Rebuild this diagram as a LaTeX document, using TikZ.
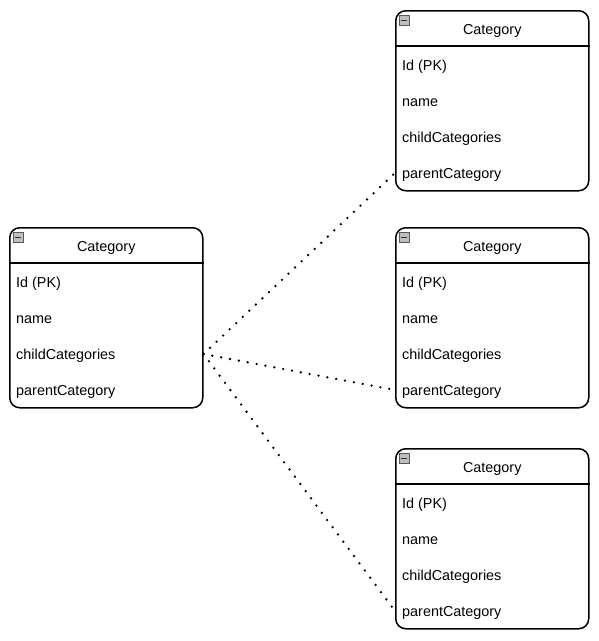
\documentclass[tikz,border=0pt]{standalone}
\usepackage{fontspec}
\setmainfont{Liberation Sans}
\begin{document}
\begin{tikzpicture}[x=1pt,y=-1pt,
  entity/.style={draw=black, line width=1.5pt, rounded corners=10pt, minimum width=193pt, minimum height=180pt, inner sep=0pt, anchor=north west},
  title/.style={font=\fontsize{14.4pt}{16pt}\selectfont, inner sep=0pt, anchor=center},
  field/.style={font=\fontsize{14.4pt}{16pt}\selectfont, inner sep=0pt, anchor=west},
  sep/.style={draw=black, line width=1.1pt},
  iconbox/.style={draw=gray!70!black, fill=gray!50, line width=0.7pt, minimum size=9.5pt, inner sep=0pt, anchor=north west},
  link/.style={line width=2.6pt, line cap=round, dash pattern=on 0pt off 9pt}
]
\useasboundingbox (0,0) rectangle (599,641);

% Entity boxes
\node[entity] (L) at (9,227) {};
\node[entity] (A) at (395,10) {};
\node[entity] (B) at (395,227) {};
\node[entity] (C) at (395,448) {};

\foreach \b in {L,A,B,C}{
  \draw[sep] ([yshift=-36pt]\b.north west) -- ([yshift=-36pt]\b.north east);
  \node[iconbox] (\b-icon) at ([xshift=4pt,yshift=-5pt]\b.north west) {};
  \draw[line width=1.2pt, black!80] ([xshift=2pt]\b-icon.west) -- ([xshift=-2pt]\b-icon.east);
  \node[title] (\b-title) at ([yshift=-21pt]\b.north) {Category};
  \node[field] (\b-id) at ([xshift=7pt,yshift=-57pt]\b.north west) {Id (PK)};
  \node[field] (\b-name) at ([xshift=7pt,yshift=-93pt]\b.north west) {name};
  \node[field] (\b-child) at ([xshift=7pt,yshift=-129pt]\b.north west) {childCategories};
  \node[field] (\b-parent) at ([xshift=7pt,yshift=-165pt]\b.north west) {parentCategory};
}

% connector end points
\coordinate (Lc) at ([yshift=2pt]L.east |- L-child.west);
\coordinate (Ap) at ([yshift=2pt]A.west |- A-parent.west);
\coordinate (Bp) at ([yshift=2pt]B.west |- B-parent.west);
\coordinate (Cp) at ([yshift=2pt]C.west |- C-parent.west);

\draw[link] (Lc) -- (Ap);
\draw[link] (Lc) -- (Bp);
\draw[link] (Lc) -- (Cp);
\end{tikzpicture}
\end{document}
